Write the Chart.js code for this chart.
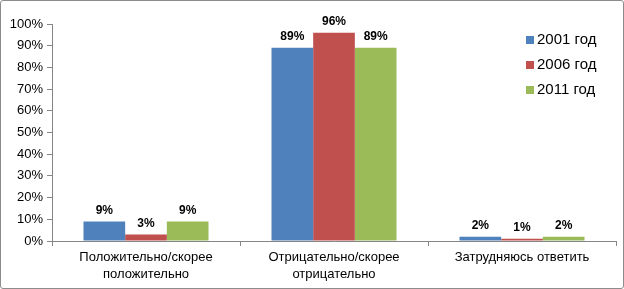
<!DOCTYPE html>
<html>
<head>
<meta charset="utf-8">
<script src="https://cdn.jsdelivr.net/npm/chart.js@4"></script>
<style>
  html, body { margin: 0; padding: 0; background: #fff; }
  #box {
    position: absolute; left: 0; top: 0;
    width: 624px; height: 289px; box-sizing: border-box;
    border: 1px solid #8c8c8c; border-radius: 3px; background: #fff;
  }
  #box canvas { display: block; }
</style>
</head>
<body>
<div id="box"><canvas id="chart" width="622" height="287"></canvas></div>
<script>
// categories and series
const categories = [
    ['Положительно/скорее', 'положительно'],
    ['Отрицательно/скорее', 'отрицательно'],
    'Затрудняюсь ответить'
];
const seriesNames = ['2001 год', '2006 год', '2011 год'];
const values2001 = [9, 89, 2];
const values2006 = [3, 96, 1];
const values2011 = [9, 89, 2];
const colors = ['#4F81BD', '#C0504D', '#9BBB59'];
const yTicks = [0, 10, 20, 30, 40, 50, 60, 70, 80, 90, 100];

const FONT = "'Liberation Sans', Arial, sans-serif";
const AXIS = '#868686';

// value labels above each bar
const valueLabels = {
    id: 'valueLabels',
    afterDatasetsDraw(chart) {
        const ctx = chart.ctx;
        ctx.save();
        ctx.font = 'bold 12px ' + FONT;
        ctx.fillStyle = '#000';
        ctx.textAlign = 'center';
        ctx.textBaseline = 'middle';
        chart.data.datasets.forEach((ds, i) => {
            chart.getDatasetMeta(i).data.forEach((bar, j) => {
                ctx.fillText(ds.data[j] + '%', bar.x, bar.y - 11);
            });
        });
        ctx.restore();
    }
};

// legend at top right, over the plot area like Excel
const sideLegend = {
    id: 'sideLegend',
    afterDraw(chart) {
        const ctx = chart.ctx;
        ctx.save();
        ctx.font = '15px ' + FONT;
        ctx.textBaseline = 'middle';
        ctx.textAlign = 'left';
        chart.data.datasets.forEach((ds, i) => {
            const y = 39 + i * 25;
            ctx.fillStyle = ds.backgroundColor;
            ctx.fillRect(525, y - 4, 8, 8);
            ctx.fillStyle = '#000';
            ctx.fillText(ds.label, 536, y);
        });
        ctx.restore();
    }
};

const datasets = [values2001, values2006, values2011].map((vals, i) => ({
    label: seriesNames[i],
    data: vals,
    backgroundColor: colors[i],
    categoryPercentage: 0.665,
    barPercentage: 1.0
}));

new Chart(document.getElementById('chart'), {
    type: 'bar',
    data: { labels: categories, datasets: datasets },
    options: {
        responsive: false,
        animation: false,
        layout: { padding: { top: 23, right: 7, left: 0, bottom: 0 } },
        plugins: {
            legend: { display: false },
            tooltip: { enabled: false }
        },
        scales: {
            x: {
                grid: {
                    drawOnChartArea: false,
                    offset: true,
                    tickLength: 5,
                    color: AXIS
                },
                border: { color: AXIS },
                ticks: {
                    color: '#000',
                    padding: 3,
                    maxRotation: 0,
                    font: { family: FONT, size: 13, lineHeight: 1.3 }
                },
                afterFit(scale) { scale.height = 47; }
            },
            y: {
                min: 0,
                max: 100,
                afterBuildTicks(scale) {
                    scale.ticks = yTicks.map(v => ({ value: v }));
                },
                grid: {
                    drawOnChartArea: false,
                    tickLength: 5,
                    color: AXIS
                },
                border: { color: AXIS },
                ticks: {
                    color: '#000',
                    padding: 4,
                    font: { family: FONT, size: 13 },
                    callback: v => v + '%'
                },
                afterFit(scale) { scale.width = 51; }
            }
        }
    },
    plugins: [valueLabels, sideLegend]
});
</script>
</body>
</html>
